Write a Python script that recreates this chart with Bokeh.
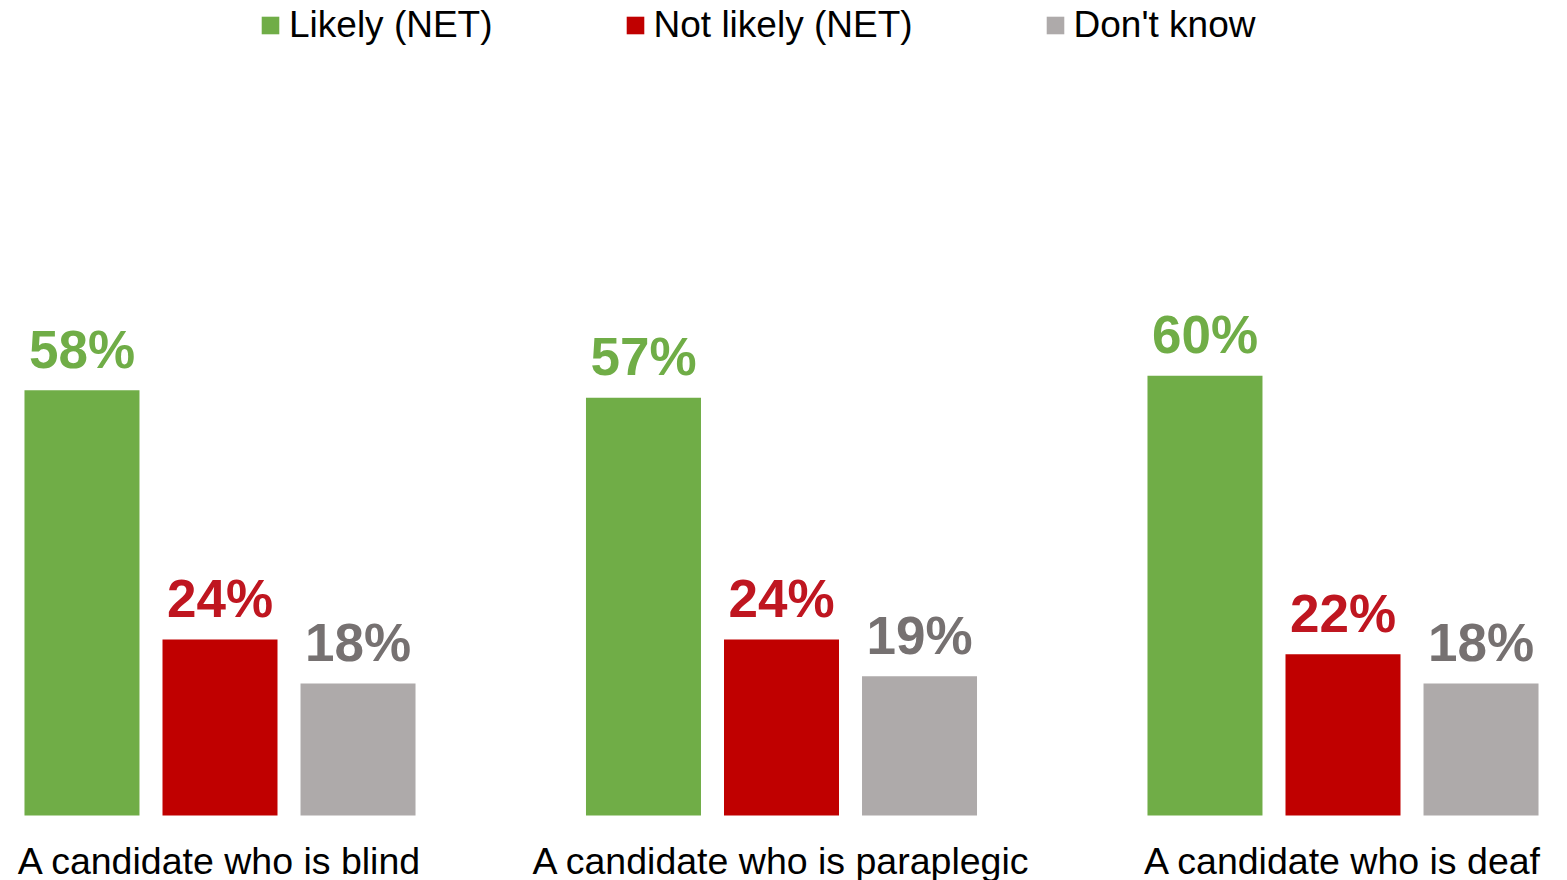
from bokeh.plotting import figure
from bokeh.models import ColumnDataSource, Range1d, Legend, LegendItem
from bokeh.core.properties import value
from bokeh.embed import file_html
from bokeh.resources import INLINE

categories = ["A candidate who is blind", "A candidate who is paraplegic", "A candidate who is deaf"]
series = ["Likely (NET)", "Not likely (NET)", "Don't know"]
likely = [58, 57, 60]
not_likely = [24, 24, 22]
dont_know = [18, 19, 18]

bar_colors = ["#70AD47", "#C00000", "#AEAAAA"]
label_colors = ["#70AD47", "#BF1620", "#767171"]
offsets = [-0.2458, 0.0, 0.2458]
FONT = "Liberation Sans"

W, H = 1567, 880
px_per_unit = 7.33
x_unit = 561.5
x0 = 219.5
baseline = 815

p = figure(width=W, height=H, output_backend="svg", toolbar_location=None,
           x_range=Range1d(-x0 / x_unit, (W - x0) / x_unit),
           y_range=Range1d(-(H - baseline) / px_per_unit, baseline / px_per_unit),
           min_border=0, min_border_left=0, min_border_right=0,
           min_border_top=0, min_border_bottom=0)
p.axis.visible = False
p.xgrid.grid_line_color = None
p.ygrid.grid_line_color = None
p.outline_line_color = None
p.background_fill_color = "white"
p.border_fill_color = "white"

items = []
for k, vals in enumerate([likely, not_likely, dont_know]):
    xs = [i + offsets[k] for i in range(len(categories))]
    src = ColumnDataSource(dict(x=xs, top=vals, lab=[f"{v}%" for v in vals]))
    r = p.vbar(x="x", top="top", bottom=0, width=115 / x_unit, source=src,
               fill_color=bar_colors[k], line_color=None)
    p.text(x="x", y="top", text="lab", source=src, text_align="center",
           text_baseline="alphabetic", y_offset=-41, text_font=value(FONT),
           text_font_size="53px", text_font_style="bold", text_color=label_colors[k])
    items.append(LegendItem(label=series[k], renderers=[r]))

csrc = ColumnDataSource(dict(x=list(range(len(categories))), y=[0] * len(categories), t=categories))
p.text(x="x", y="y", text="t", source=csrc, text_align="center", text_baseline="alphabetic",
       y_offset=45, text_font=value(FONT), text_font_size="37.5px", text_color="#000000")

legend = Legend(items=items, orientation="horizontal", location=(259, H - 46),
                glyph_width=22, glyph_height=22, label_standoff=8, spacing=131,
                padding=0, margin=0, border_line_alpha=0, background_fill_alpha=0,
                label_text_font=FONT, label_text_font_size="37px", label_height=37,
                label_text_color="#000000")
p.add_layout(legend)

open("out.html", "w").write(file_html(p, INLINE))
